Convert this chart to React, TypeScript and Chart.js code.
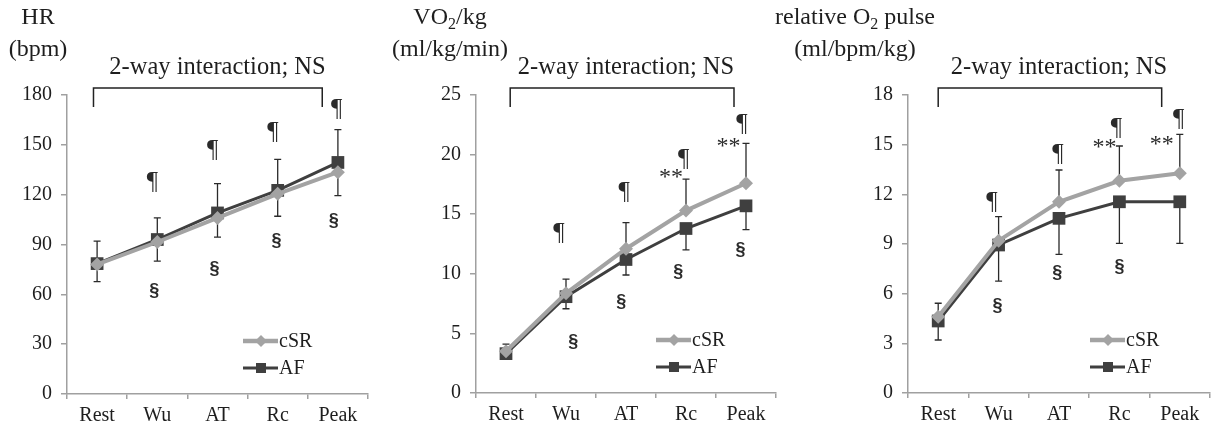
import React, { useEffect, useRef } from "react";
import { Chart, registerables } from "chart.js";

Chart.register(...registerables);

// ---------- data ----------
const categories = ["Rest", "Wu", "AT", "Rc", "Peak"];
const seriesNames = ["cSR", "AF"];
const interactionText = "2-way interaction; NS";

// HR panel
const hrTicks = [0, 30, 60, 90, 120, 150, 180];
const hrCSR = [78, 91.5, 106, 120.5, 133.5];
const hrAF = [78.5, 93, 109, 122.6, 139.4];
const hrCSRUpper = [92, 106, 126.6, 141.2, 159.2];
const hrAFLower = [67.6, 80, 94.4, 107, 119.4];
const hrPilcrowX = [0.92, 1.92, 2.92, 3.98];
const hrPilcrowY = [128, 147, 158, 172];
const hrSectionX = [0.95, 1.95, 2.98, 3.93];
const hrSectionY = [62, 75, 92, 104];
const hrStarsX: number[] = [];
const hrStarsY: number[] = [];

// VO2/kg panel
const voTicks = [0, 5, 10, 15, 20, 25];
const voCSR = [3.5, 8.36, 12.1, 15.3, 17.6];
const voAF = [3.3, 8.08, 11.2, 13.8, 15.7];
const voCSRUpper = [4.1, 9.56, 14.3, 17.95, 20.95];
const voAFLower = [2.9, 7.07, 9.9, 12.0, 13.7];
const voPilcrowX = [0.88, 1.97, 2.96, 3.93];
const voPilcrowY = [13.5, 16.9, 19.7, 22.6];
const voSectionX = [1.12, 1.92, 2.87, 3.91];
const voSectionY = [4.3, 7.66, 10.18, 12.0];
const voStarsX = [2.95, 3.91];
const voStarsY = [18.5, 21.1];

// relative O2 pulse panel
const o2Ticks = [0, 3, 6, 9, 12, 15, 18];
const o2CSR = [4.6, 9.2, 11.55, 12.82, 13.27];
const o2AF = [4.35, 8.94, 10.55, 11.55, 11.55];
const o2CSRUpper = [5.42, 10.65, 13.47, 14.92, 15.62];
const o2AFLower = [3.2, 6.76, 8.37, 9.04, 9.04];
const o2PilcrowX = [0.89, 1.98, 2.95, 3.98];
const o2PilcrowY = [11.55, 14.47, 16.04, 16.59];
const o2SectionX = [0.98, 1.97, 3.0];
const o2SectionY = [5.25, 7.26, 7.63];
const o2StarsX = [2.95, 3.9];
const o2StarsY = [15.1, 15.3];

type Seg = { t: string; sub?: boolean };
const hrTitle: Seg[][] = [[{ t: "HR" }], [{ t: "(bpm)" }]];
const voTitle: Seg[][] = [[{ t: "VO" }, { t: "2", sub: true }, { t: "/kg" }], [{ t: "(ml/kg/min)" }]];
const o2Title: Seg[][] = [[{ t: "relative O" }, { t: "2", sub: true }, { t: " pulse" }], [{ t: "(ml/bpm/kg)" }]];

// ---------- styles ----------
const SERIF = "'Liberation Serif', 'Times New Roman', serif";
const SANS = "'Liberation Sans', Arial, sans-serif";
const CSR_COLOR = "#a3a3a3";
const AF_COLOR = "#3f3f3f";
const AXIS_COLOR = "#a0a0a0";
const TEXT_COLOR = "#1e1e1e";
const H = 433;

type Panel = {
  left: number;
  width: number;
  axisW: number;
  padRight: number;
  top: number;
  bottomH: number;
  titleX: number;
  title: Seg[][];
  ticks: number[];
  csr: number[];
  af: number[];
  csrUpper: number[];
  afLower: number[];
  pilX: number[];
  pilY: number[];
  secX: number[];
  secY: number[];
  starX: number[];
  starY: number[];
  bracket: [number, number];
  legendFromRight: number;
};

const panels: Panel[] = [
  {
    left: 0, width: 380, axisW: 67, padRight: 12, top: 95, bottomH: 39, titleX: 38,
    title: hrTitle, ticks: hrTicks, csr: hrCSR, af: hrAF, csrUpper: hrCSRUpper, afLower: hrAFLower,
    pilX: hrPilcrowX, pilY: hrPilcrowY, secX: hrSectionX, secY: hrSectionY, starX: hrStarsX, starY: hrStarsY,
    bracket: [-0.06, 3.74], legendFromRight: 125,
  },
  {
    left: 385, width: 400, axisW: 91, padRight: 2, top: 95, bottomH: 40, titleX: 65,
    title: voTitle, ticks: voTicks, csr: voCSR, af: voAF, csrUpper: voCSRUpper, afLower: voAFLower,
    pilX: voPilcrowX, pilY: voPilcrowY, secX: voSectionX, secY: voSectionY, starX: voStarsX, starY: voStarsY,
    bracket: [0.07, 3.8], legendFromRight: 120,
  },
  {
    left: 770, width: 449, axisW: 138, padRight: 1, top: 95, bottomH: 40, titleX: 85,
    title: o2Title, ticks: o2Ticks, csr: o2CSR, af: o2AF, csrUpper: o2CSRUpper, afLower: o2AFLower,
    pilX: o2PilcrowX, pilY: o2PilcrowY, secX: o2SectionX, secY: o2SectionY, starX: o2StarsX, starY: o2StarsY,
    bracket: [0.0, 3.7], legendFromRight: 120,
  },
];

function drawRich(ctx: CanvasRenderingContext2D, segs: Seg[], cx: number, cy: number, size: number) {
  const base = `${size}px ${SERIF}`;
  const subF = `${Math.round(size * 0.66)}px ${SERIF}`;
  let w = 0;
  for (const s of segs) {
    ctx.font = s.sub ? subF : base;
    w += ctx.measureText(s.t).width;
  }
  let x = cx - w / 2;
  ctx.textAlign = "left";
  ctx.textBaseline = "middle";
  for (const s of segs) {
    ctx.font = s.sub ? subF : base;
    ctx.fillText(s.t, x, cy + (s.sub ? size * 0.28 : 0));
    x += ctx.measureText(s.t).width;
  }
}

function xAt(chart: any, v: number) {
  const sc = chart.scales.x;
  const p0 = sc.getPixelForValue(0);
  const p1 = sc.getPixelForValue(1);
  return p0 + (p1 - p0) * v;
}

function diamond(ctx: CanvasRenderingContext2D, x: number, y: number, r: number) {
  ctx.beginPath();
  ctx.moveTo(x - r, y);
  ctx.lineTo(x, y - r);
  ctx.lineTo(x + r, y);
  ctx.lineTo(x, y + r);
  ctx.closePath();
  ctx.fill();
}

function makeExtras(p: Panel) {
  return {
    id: "extras",
    beforeDatasetsDraw(chart: any) {
      const ctx: CanvasRenderingContext2D = chart.ctx;
      const ys = chart.scales.y;
      ctx.save();
      ctx.strokeStyle = "#2a2a2a";
      ctx.lineWidth = 1.3;
      const cap = 3.5;
      const bar = (i: number, from: number, to: number) => {
        const x = xAt(chart, i);
        const y0 = ys.getPixelForValue(from);
        const y1 = ys.getPixelForValue(to);
        ctx.beginPath();
        ctx.moveTo(x, y0);
        ctx.lineTo(x, y1);
        ctx.moveTo(x - cap, y1);
        ctx.lineTo(x + cap, y1);
        ctx.stroke();
      };
      p.csrUpper.forEach((v, i) => bar(i, p.csr[i], v));
      p.afLower.forEach((v, i) => bar(i, p.af[i], v));
      ctx.restore();
    },
    afterDraw(chart: any) {
      const ctx: CanvasRenderingContext2D = chart.ctx;
      const area = chart.chartArea;
      const ys = chart.scales.y;
      ctx.save();
      ctx.fillStyle = TEXT_COLOR;
      // y-axis titles
      drawRich(ctx, p.title[0], p.titleX, 18, 24);
      drawRich(ctx, p.title[1], p.titleX, 50, 24);
      // interaction label
      drawRich(ctx, [{ t: interactionText }], (area.left + area.right) / 2, area.top - 27, 24.5);
      // bracket
      const bx0 = xAt(chart, p.bracket[0]);
      const bx1 = xAt(chart, p.bracket[1]);
      ctx.strokeStyle = "#222";
      ctx.lineWidth = 1.5;
      ctx.beginPath();
      ctx.moveTo(bx0, area.top + 12);
      ctx.lineTo(bx0, area.top - 7);
      ctx.lineTo(bx1, area.top - 7);
      ctx.lineTo(bx1, area.top + 12);
      ctx.stroke();
      // pilcrows
      ctx.font = `25px ${SERIF}`;
      ctx.textAlign = "center";
      ctx.textBaseline = "middle";
      ctx.fillStyle = "#2a2a2a";
      p.pilX.forEach((v, i) => ctx.fillText("\u00B6", xAt(chart, v), ys.getPixelForValue(p.pilY[i]) + 1));
      // stars
      ctx.font = `24px ${SERIF}`;
      ctx.textAlign = "right";
      ctx.textBaseline = "middle";
      p.starX.forEach((v, i) => ctx.fillText("**", xAt(chart, v), ys.getPixelForValue(p.starY[i]) + 5));
      // section marks
      ctx.font = `bold 18px ${SANS}`;
      ctx.textAlign = "center";
      ctx.textBaseline = "middle";
      p.secX.forEach((v, i) => ctx.fillText("\u00A7", xAt(chart, v), ys.getPixelForValue(p.secY[i])));
      // legend
      const lx = area.right - p.legendFromRight;
      const entries = [
        { name: seriesNames[0], color: CSR_COLOR, lw: 4.5, y: area.bottom - 53, shape: "d" },
        { name: seriesNames[1], color: AF_COLOR, lw: 3, y: area.bottom - 26, shape: "s" },
      ];
      for (const e of entries) {
        ctx.strokeStyle = e.color;
        ctx.fillStyle = e.color;
        ctx.lineWidth = e.lw;
        ctx.beginPath();
        ctx.moveTo(lx, e.y);
        ctx.lineTo(lx + 35, e.y);
        ctx.stroke();
        if (e.shape === "d") diamond(ctx, lx + 18, e.y, 6);
        else ctx.fillRect(lx + 18 - 5, e.y - 5, 10, 10);
        ctx.fillStyle = TEXT_COLOR;
        ctx.font = `20px ${SERIF}`;
        ctx.textAlign = "left";
        ctx.textBaseline = "middle";
        ctx.fillText(e.name, lx + 36, e.y + 1);
      }
      ctx.restore();
    },
  };
}

function PanelChart({ p }: { p: Panel }) {
  const ref = useRef<HTMLCanvasElement>(null);
  useEffect(() => {
    const chart = new Chart(ref.current as HTMLCanvasElement, {
      type: "line",
      data: {
        labels: categories,
        datasets: [
          {
            label: seriesNames[0],
            data: p.csr,
            borderColor: CSR_COLOR,
            backgroundColor: CSR_COLOR,
            borderWidth: 4,
            pointStyle: "rectRot",
            pointRadius: 7,
            pointBorderWidth: 0,
            tension: 0,
          },
          {
            label: seriesNames[1],
            data: p.af,
            borderColor: AF_COLOR,
            backgroundColor: AF_COLOR,
            borderWidth: 3,
            pointStyle: "rect",
            pointRadius: 9,
            pointBorderWidth: 0,
            tension: 0,
          },
        ],
      },
      options: {
        responsive: false,
        animation: false,
        layout: { padding: { top: p.top, right: p.padRight, left: 0, bottom: 0 } },
        plugins: { legend: { display: false }, tooltip: { enabled: false } },
        scales: {
          x: {
            type: "category",
            offset: true,
            grid: {
              display: true,
              offset: true,
              drawOnChartArea: false,
              drawTicks: true,
              tickLength: 5,
              color: AXIS_COLOR,
              lineWidth: 1.5,
            },
            border: { display: true, color: AXIS_COLOR, width: 1.5 },
            ticks: { color: TEXT_COLOR, font: { family: SERIF, size: 20 }, padding: 5, maxRotation: 0, autoSkip: false },
            afterFit: (s: any) => {
              s.height = p.bottomH;
            },
          },
          y: {
            min: p.ticks[0],
            max: p.ticks[p.ticks.length - 1],
            grid: {
              display: true,
              drawOnChartArea: false,
              drawTicks: true,
              tickLength: 6,
              color: AXIS_COLOR,
              lineWidth: 1.5,
            },
            border: { display: true, color: AXIS_COLOR, width: 1.5 },
            ticks: { stepSize: p.ticks[1] - p.ticks[0], color: TEXT_COLOR, font: { family: SERIF, size: 20 }, padding: 9 },
            afterFit: (s: any) => {
              s.width = p.axisW;
            },
          },
        },
      },
      plugins: [makeExtras(p)],
    } as any);
    return () => chart.destroy();
  }, []);
  return (
    <canvas
      ref={ref}
      width={p.width}
      height={H}
      style={{ position: "absolute", left: p.left, top: 0, width: p.width, height: H }}
    />
  );
}

export default function App() {
  return (
    <div style={{ position: "fixed", left: 0, top: 0, width: 1219, height: H, background: "#fff", overflow: "hidden" }}>
      {panels.map((p, i) => (
        <PanelChart key={i} p={p} />
      ))}
    </div>
  );
}
